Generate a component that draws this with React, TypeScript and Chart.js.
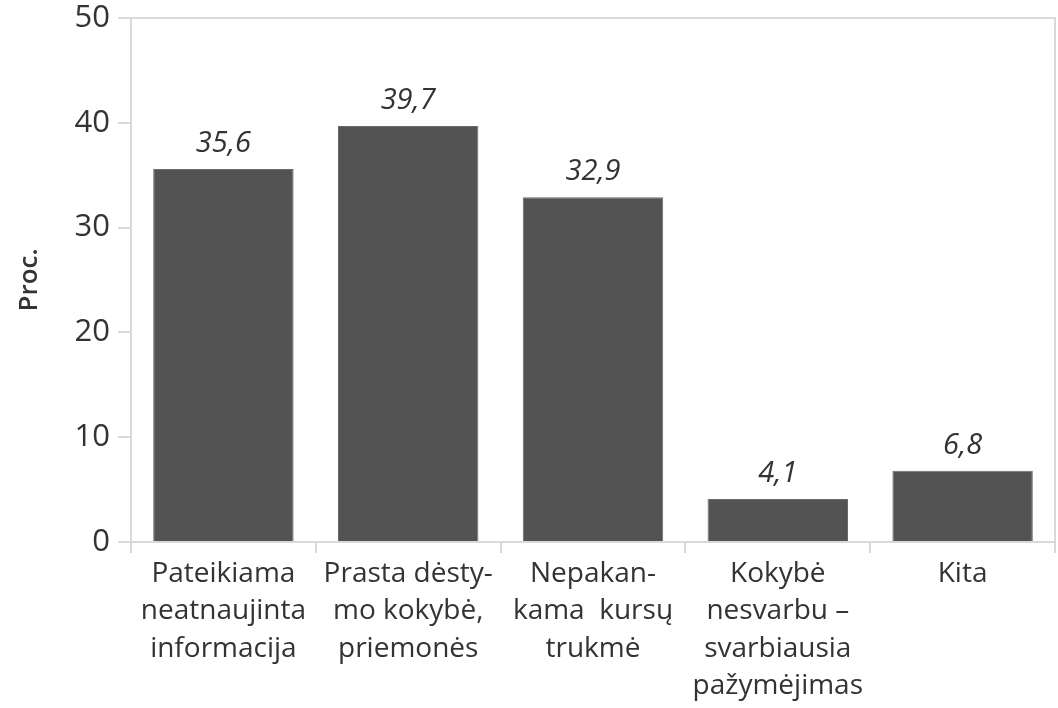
import React, { useEffect, useRef } from "react";
import { Chart, registerables } from "chart.js";
Chart.register(...registerables);

const categories: string[][] = [
  ["Pateikiama", "neatnaujinta", "informacija"],
  ["Prasta dėsty-", "mo kokybė,", "priemonės"],
  ["Nepakan-", "kama  kursų", "trukmė"],
  ["Kokybė", "nesvarbu –", "svarbiausia", "pažymėjimas"],
  ["Kita"],
];
const values: number[] = [35.6, 39.7, 32.9, 4.1, 6.8];
const valueLabels: string[] = ["35,6", "39,7", "32,9", "4,1", "6,8"];
const yTitle = "Proc.";
const yMin = 0;
const yMax = 50;
const yStep = 10;

const FONT = "'Open Sans', sans-serif";
const TEXT = "#333333";
const AXIS = "#d9d9d9";

const valueLabelPlugin = {
  id: "valueLabels",
  afterDatasetsDraw(chart: any) {
    const ctx = chart.ctx;
    const meta = chart.getDatasetMeta(0);
    ctx.save();
    ctx.fillStyle = TEXT;
    ctx.font = `italic 29px ${FONT}`;
    ctx.textAlign = "center";
    ctx.textBaseline = "alphabetic";
    meta.data.forEach((bar: any, i: number) => {
      ctx.fillText(valueLabels[i], bar.x, bar.y - 17);
    });
    ctx.restore();
  },
};

export default function App() {
  const ref = useRef<HTMLCanvasElement | null>(null);
  useEffect(() => {
    if (!ref.current) return;
    const chart = new Chart(ref.current, {
      type: "bar",
      data: {
        labels: categories,
        datasets: [
          {
            data: values,
            backgroundColor: "#535353",
            borderColor: "#6a6a6a",
            borderWidth: 1,
            categoryPercentage: 1,
            barPercentage: 0.76,
          },
        ],
      },
      options: {
        animation: false,
        responsive: true,
        maintainAspectRatio: false,
        layout: { padding: { top: 0, right: 3, bottom: 0, left: 0 } },
        plugins: { legend: { display: false }, tooltip: { enabled: false } },
        scales: {
          x: {
            grid: {
              offset: true,
              drawOnChartArea: false,
              drawTicks: true,
              tickLength: 11,
              tickColor: AXIS,
              color: AXIS,
              lineWidth: 2,
            },
            border: { display: true, color: AXIS, width: 2 },
            ticks: {
              color: TEXT,
              font: { family: FONT, size: 28, lineHeight: 1.34 },
              maxRotation: 0,
              autoSkip: false,
              padding: 2,
            },
            afterFit: (s: any) => {
              s.height = 166;
            },
          },
          y: {
            min: yMin,
            max: yMax,
            ticks: {
              stepSize: yStep,
              color: TEXT,
              font: { family: FONT, size: 31 },
              padding: 8,
            },
            grid: {
              color: (c: any) => (c.tick && c.tick.value === yMax ? AXIS : "rgba(0,0,0,0)"),
              tickColor: AXIS,
              tickLength: 13,
              lineWidth: 2,
            },
            border: { display: true, color: AXIS, width: 2 },
            title: {
              display: true,
              text: yTitle,
              color: TEXT,
              font: { family: FONT, size: 26, weight: "600" },
              padding: { top: 14, bottom: 0 },
            },
            afterFit: (s: any) => {
              s.width = 131;
              s.paddingTop = 18;
              s.paddingBottom = 0;
            },
          },
          y1: {
            position: "right",
            display: true,
            min: yMin,
            max: yMax,
            grid: { display: false, drawTicks: false },
            ticks: { display: false },
            border: { display: true, color: AXIS, width: 2 },
            afterFit: (s: any) => {
              s.width = 0;
              s.paddingTop = 18;
              s.paddingBottom = 0;
            },
          },
        },
      },
      plugins: [valueLabelPlugin],
    });
    return () => chart.destroy();
  }, []);
  return (
    <div style={{ position: "absolute", left: 0, top: 0, width: 1058, height: 708, background: "#fff" }}>
      <canvas ref={ref} />
    </div>
  );
}
